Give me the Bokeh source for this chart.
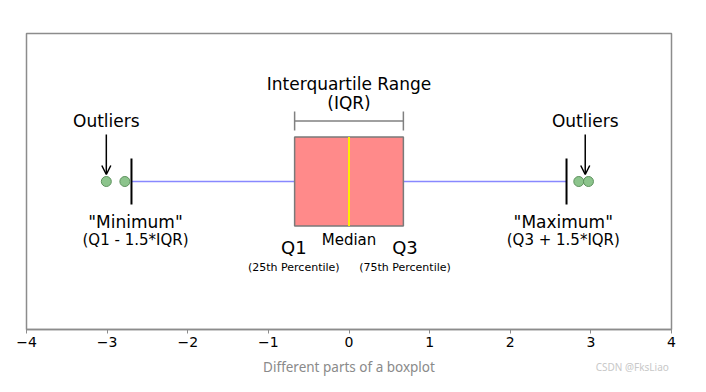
from bokeh.plotting import figure
from bokeh.models import Range1d, Label, Arrow, OpenHead, FixedTicker
from bokeh.layouts import column
from bokeh.core.properties import value
from bokeh.embed import file_html
from bokeh.resources import INLINE

# ---- data ----
q1 = -0.6745
median = 0.0
q3 = 0.6745
whisker_low = -2.698
whisker_high = 2.698
outliers_x = [-3.01, -2.78, 2.85, 2.97]
outliers_y = [0, 0, 0, 0]
tick_values = [-4, -3, -2, -1, 0, 1, 2, 3, 4]
tick_labels = ["\u22124", "\u22123", "\u22122", "\u22121", "0", "1", "2", "3", "4"]
caption = "Different parts of a boxplot"
watermark = "CSDN @FksLiao"

FONT = "DejaVu Sans"

p = figure(width=690, height=356, output_backend="svg", toolbar_location=None,
           x_range=Range1d(-4, 4), y_range=Range1d(-148, 148),
           y_axis_location=None, min_border_left=26, min_border_right=19,
           min_border_top=33, min_border_bottom=27)
p.xgrid.visible = False
p.ygrid.visible = False
p.outline_line_color = "#8c8c8c"
p.outline_line_width = 1.5
p.background_fill_color = "white"
p.border_fill_color = "white"

ax = p.xaxis[0]
ax.ticker = FixedTicker(ticks=tick_values)
ax.major_label_overrides = {v: l for v, l in zip(tick_values, tick_labels)}
ax.axis_line_color = "#8c8c8c"
ax.axis_line_width = 1.5
ax.major_tick_line_color = "#8c8c8c"
ax.major_tick_in = 0
ax.major_tick_out = 4
ax.minor_tick_line_color = None
ax.major_label_text_font = FONT
ax.major_label_text_font_size = "14px"
ax.major_label_text_color = "black"
ax.major_label_standoff = 3

box_half = 44.5
cap_half = 23

# whiskers
p.segment(x0=[whisker_low, q3], y0=[0, 0], x1=[q1, whisker_high], y1=[0, 0],
          line_color="#8888ff", line_width=1.5)
# caps
p.segment(x0=[whisker_low, whisker_high], y0=[-cap_half, -cap_half],
          x1=[whisker_low, whisker_high], y1=[cap_half, cap_half],
          line_color="black", line_width=2)
# box
p.quad(left=[q1], right=[q3], bottom=[-box_half], top=[box_half],
       fill_color="#ff8a8a", line_color="#7a7a7a", line_width=1.5)
# median
p.segment(x0=[median], y0=[-box_half], x1=[median], y1=[box_half],
          line_color="#ffee00", line_width=2)
# outliers
p.scatter(outliers_x, outliers_y, size=10, fill_color="#8cc48c",
          line_color="#5e925e", line_width=1)

# IQR bracket
p.segment(x0=[q1, q1, q3], y0=[60.5, 51, 51], x1=[q3, q1, q3], y1=[60.5, 70, 70],
          line_color="#808080", line_width=1.5)

def lab(x, y, text, size, color="black", font=FONT):
    p.add_layout(Label(x=x, y=y, text=text, text_font=font,
                       text_font_size=size, text_color=color,
                       text_align="center", text_baseline="middle"))

lab(median, 98, "Interquartile Range", "17px")
lab(median, 79, "(IQR)", "17px")

out_left = (outliers_x[0])
out_right = (outliers_x[2] + outliers_x[3]) / 2 + 0.02
lab(out_left, 61, "Outliers", "17px")
lab(out_right, 61, "Outliers", "17px")
for xa in (out_left, out_right):
    p.add_layout(Arrow(end=OpenHead(size=9, line_width=1.5, line_color="black"),
                       x_start=xa, y_start=47, x_end=xa, y_end=7,
                       line_width=1.5, line_color="black"))

lab(whisker_low + 0.05, -40, "\"Minimum\"", "17px")
lab(whisker_low + 0.05, -58, "(Q1 - 1.5*IQR)", "15px")
lab(whisker_high - 0.04, -40, "\"Maximum\"", "17px")
lab(whisker_high - 0.04, -58, "(Q3 + 1.5*IQR)", "15px")

lab(q1 - 0.01, -66, "Q1", "18px")
lab(q3 + 0.02, -66, "Q3", "18px")
lab(median, -58, "Median", "15px")
lab(q1 - 0.01, -86, "(25th Percentile)", "11px")
lab(q3 + 0.02, -86, "(75th Percentile)", "11px")

# caption strip below the chart
p2 = figure(width=690, height=20, output_backend="svg", toolbar_location=None,
            x_range=Range1d(0, 690), y_range=Range1d(0, 20),
            x_axis_location=None, y_axis_location=None,
            min_border=0, min_border_left=0, min_border_right=0,
            min_border_top=0, min_border_bottom=0)
p2.xgrid.visible = False
p2.ygrid.visible = False
p2.outline_line_color = None
p2.text(x=[345], y=[10], text=[caption], text_font=value("Noto Sans"),
        text_font_size="13.5px", text_color="#8a8a8a",
        text_align="center", text_baseline="middle")
p2.text(x=[648], y=[10], text=[watermark], text_font=value("Noto Sans"),
        text_font_size="10px", text_color="#c8c8c8",
        text_align="center", text_baseline="middle")

layout = column(p, p2, spacing=0)
open("out.html", "w").write(file_html(layout, INLINE))
